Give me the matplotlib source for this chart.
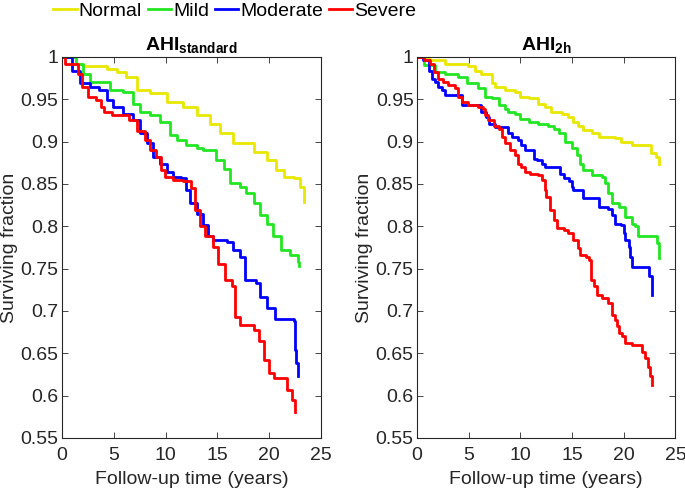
import matplotlib.pyplot as plt

plt.rcParams['font.family'] = ['Liberation Sans', 'DejaVu Sans']
plt.rcParams['mathtext.fontset'] = 'custom'
plt.rcParams['mathtext.rm'] = 'Liberation Sans'
plt.rcParams['mathtext.bf'] = 'Liberation Sans:bold'

# survival curves: (years, surviving fraction)
# panel 1: AHI standard
std_normal_t = [0, 1.4, 2.0, 4.3, 5.3, 6.2, 7.2, 8.5, 10.1, 11.7, 13.0, 14.3, 15.3, 16.5, 18.5, 19.8, 20.7, 21.4, 22.4, 23.0, 23.4]
std_normal_s = [1, 0.992, 0.989, 0.986, 0.982, 0.976, 0.961, 0.957, 0.947, 0.941, 0.931, 0.921, 0.910, 0.898, 0.888, 0.878, 0.866, 0.858, 0.857, 0.847, 0.829]
std_mild_t = [0, 1.4, 2.0, 2.7, 4.6, 5.9, 6.9, 7.5, 8.5, 9.5, 10.4, 11.1, 12.0, 13.0, 13.6, 14.9, 15.6, 16.2, 17.2, 17.8, 18.5, 19.1, 19.8, 20.4, 21.1, 22.0, 22.8, 22.85]
std_mild_s = [1, 0.992, 0.980, 0.970, 0.961, 0.959, 0.945, 0.935, 0.931, 0.923, 0.908, 0.902, 0.896, 0.892, 0.890, 0.878, 0.868, 0.851, 0.847, 0.839, 0.827, 0.813, 0.803, 0.788, 0.772, 0.766, 0.758, 0.753]
std_mod_t = [0, 1.0, 1.7, 2.7, 3.6, 4.3, 4.9, 5.9, 6.9, 7.5, 8.2, 8.8, 9.5, 10.1, 10.7, 11.5, 12.0, 12.4, 13.0, 13.6, 14.1, 14.6, 15.9, 16.5, 17.2, 17.7, 18.7, 19.1, 19.8, 20.6, 22.4, 22.5, 22.6, 22.8]
std_mod_s = [1, 0.984, 0.969, 0.965, 0.961, 0.949, 0.941, 0.933, 0.925, 0.910, 0.898, 0.882, 0.874, 0.864, 0.858, 0.857, 0.843, 0.827, 0.815, 0.801, 0.788, 0.784, 0.782, 0.772, 0.764, 0.737, 0.733, 0.717, 0.703, 0.690, 0.688, 0.654, 0.638, 0.623]
std_sev_t = [0, 0.3, 1.5, 1.9, 2.5, 3.3, 3.8, 4.1, 4.8, 6.5, 7.2, 8.0, 8.5, 9.1, 9.6, 9.9, 10.7, 11.7, 12.5, 12.8, 13.3, 13.8, 14.6, 15.1, 15.7, 16.4, 16.7, 17.2, 18.5, 19.0, 19.5, 20.0, 20.5, 21.7, 22.2, 22.5]
std_sev_s = [1, 0.992, 0.980, 0.965, 0.953, 0.949, 0.941, 0.935, 0.931, 0.925, 0.912, 0.902, 0.890, 0.882, 0.866, 0.858, 0.855, 0.853, 0.845, 0.819, 0.800, 0.788, 0.776, 0.756, 0.737, 0.729, 0.693, 0.684, 0.678, 0.664, 0.642, 0.627, 0.621, 0.607, 0.595, 0.581]

# panel 2: AHI 2h
h2_normal_t = [0, 1.1, 2.7, 4.9, 5.6, 6.2, 7.2, 7.5, 8.5, 9.5, 10.0, 10.8, 11.7, 12.4, 13.0, 14.0, 14.6, 15.1, 15.6, 16.1, 16.9, 17.6, 19.2, 19.7, 20.8, 22.6, 23.1, 23.4]
h2_normal_s = [1, 0.996, 0.992, 0.989, 0.984, 0.980, 0.969, 0.965, 0.961, 0.959, 0.953, 0.951, 0.945, 0.941, 0.935, 0.933, 0.929, 0.923, 0.919, 0.914, 0.910, 0.906, 0.904, 0.900, 0.896, 0.886, 0.882, 0.874]
h2_mild_t = [0, 0.7, 1.7, 2.7, 4.0, 4.8, 5.9, 6.6, 7.2, 7.9, 8.5, 8.8, 9.5, 10.0, 10.8, 11.7, 12.7, 13.2, 13.7, 14.3, 15.0, 15.5, 15.8, 16.1, 16.9, 17.9, 18.2, 18.5, 18.9, 19.5, 20.1, 20.8, 21.1, 21.4, 23.2, 23.4]
h2_mild_s = [1, 0.990, 0.982, 0.980, 0.976, 0.969, 0.963, 0.953, 0.951, 0.943, 0.939, 0.935, 0.933, 0.927, 0.923, 0.921, 0.919, 0.915, 0.910, 0.900, 0.892, 0.884, 0.874, 0.866, 0.860, 0.858, 0.851, 0.839, 0.827, 0.823, 0.811, 0.803, 0.800, 0.788, 0.780, 0.762]
h2_mod_t = [0, 0.6, 1.1, 1.4, 1.7, 2.0, 2.4, 2.7, 4.3, 6.2, 6.7, 7.0, 7.5, 8.8, 9.2, 9.8, 10.1, 10.4, 11.3, 11.6, 12.1, 12.4, 13.8, 14.2, 14.7, 15.0, 15.1, 16.1, 17.6, 18.5, 18.9, 19.2, 19.7, 20.0, 20.1, 20.5, 20.6, 20.8, 22.4, 22.7, 22.75]
h2_mod_s = [1, 0.996, 0.984, 0.974, 0.970, 0.965, 0.961, 0.955, 0.943, 0.935, 0.929, 0.921, 0.917, 0.910, 0.906, 0.902, 0.896, 0.890, 0.880, 0.878, 0.874, 0.870, 0.862, 0.857, 0.853, 0.847, 0.843, 0.833, 0.823, 0.821, 0.813, 0.803, 0.801, 0.792, 0.784, 0.776, 0.764, 0.752, 0.741, 0.731, 0.719]
h2_sev_t = [0, 0.7, 1.2, 1.6, 2.0, 2.5, 3.0, 3.7, 4.0, 4.3, 4.9, 5.9, 6.4, 6.6, 6.9, 7.4, 7.9, 8.2, 8.5, 9.0, 9.5, 9.8, 10.1, 10.4, 10.9, 11.7, 12.1, 12.4, 12.5, 12.9, 13.2, 13.5, 14.2, 14.6, 15.1, 15.6, 15.8, 16.3, 16.6, 16.8, 17.1, 17.4, 17.9, 18.5, 18.9, 19.2, 19.3, 19.5, 19.8, 20.1, 20.8, 21.8, 22.1, 22.3, 22.5, 22.7]
h2_sev_s = [1, 0.996, 0.992, 0.982, 0.974, 0.970, 0.967, 0.963, 0.953, 0.947, 0.943, 0.941, 0.939, 0.931, 0.925, 0.919, 0.915, 0.906, 0.898, 0.890, 0.884, 0.874, 0.870, 0.864, 0.862, 0.860, 0.855, 0.843, 0.835, 0.819, 0.807, 0.798, 0.796, 0.792, 0.784, 0.774, 0.766, 0.764, 0.760, 0.737, 0.729, 0.719, 0.715, 0.709, 0.695, 0.689, 0.682, 0.674, 0.670, 0.662, 0.660, 0.652, 0.644, 0.634, 0.623, 0.613]

groups = ['Normal', 'Mild', 'Moderate', 'Severe']
colors = ['#e8e800', '#22e622', '#0000ff', '#ff0000']
titles = [r'$\mathbf{AHI_{standard}}$', r'$\mathbf{AHI_{2h}}$']
panels = [
    [(std_normal_t, std_normal_s), (std_mild_t, std_mild_s), (std_mod_t, std_mod_s), (std_sev_t, std_sev_s)],
    [(h2_normal_t, h2_normal_s), (h2_mild_t, h2_mild_s), (h2_mod_t, h2_mod_s), (h2_sev_t, h2_sev_s)],
]

fs = 14
fig = plt.figure(figsize=(6.85, 4.91), dpi=100)
ax1 = fig.add_axes([0.0905, 0.108, 0.378, 0.776])
ax2 = fig.add_axes([0.609, 0.108, 0.377, 0.776])

edge = '#262626'
for ax, curves, title in zip([ax1, ax2], panels, titles):
    for (t, s), name, c in zip(curves, groups, colors):
        ax.plot(t, s, drawstyle='steps-post', color=c, lw=2, label=name)
    ax.set_xlim(0, 25)
    ax.set_ylim(0.55, 1)
    ax.set_xticks([0, 5, 10, 15, 20, 25])
    ax.set_yticks([0.55, 0.6, 0.65, 0.7, 0.75, 0.8, 0.85, 0.9, 0.95, 1])
    ax.set_yticklabels(['0.55', '0.6', '0.65', '0.7', '0.75', '0.8', '0.85', '0.9', '0.95', '1'])
    ax.tick_params(direction='in', top=True, right=True, labelsize=fs, colors=edge, length=4, width=0.6)
    ax.tick_params(axis='x', pad=6.5)
    ax.tick_params(axis='y', pad=2.5)
    for sp in ax.spines.values():
        sp.set_color(edge)
        sp.set_linewidth(0.8)
    ax.set_xlabel('Follow-up time (years)', fontsize=fs, color=edge, labelpad=5)
    ax.set_ylabel('Surviving fraction', fontsize=fs, color=edge, labelpad=2)
    ax.set_title(title, fontsize=fs, pad=5)

fig.legend(*ax1.get_legend_handles_labels(), loc='upper left', bbox_to_anchor=(0.078, 0.996),
           ncol=4, frameon=False, fontsize=fs, handlelength=1.2, handletextpad=0.1,
           columnspacing=0.3, borderaxespad=0, borderpad=0)

fig.savefig('out.png', dpi=100)
